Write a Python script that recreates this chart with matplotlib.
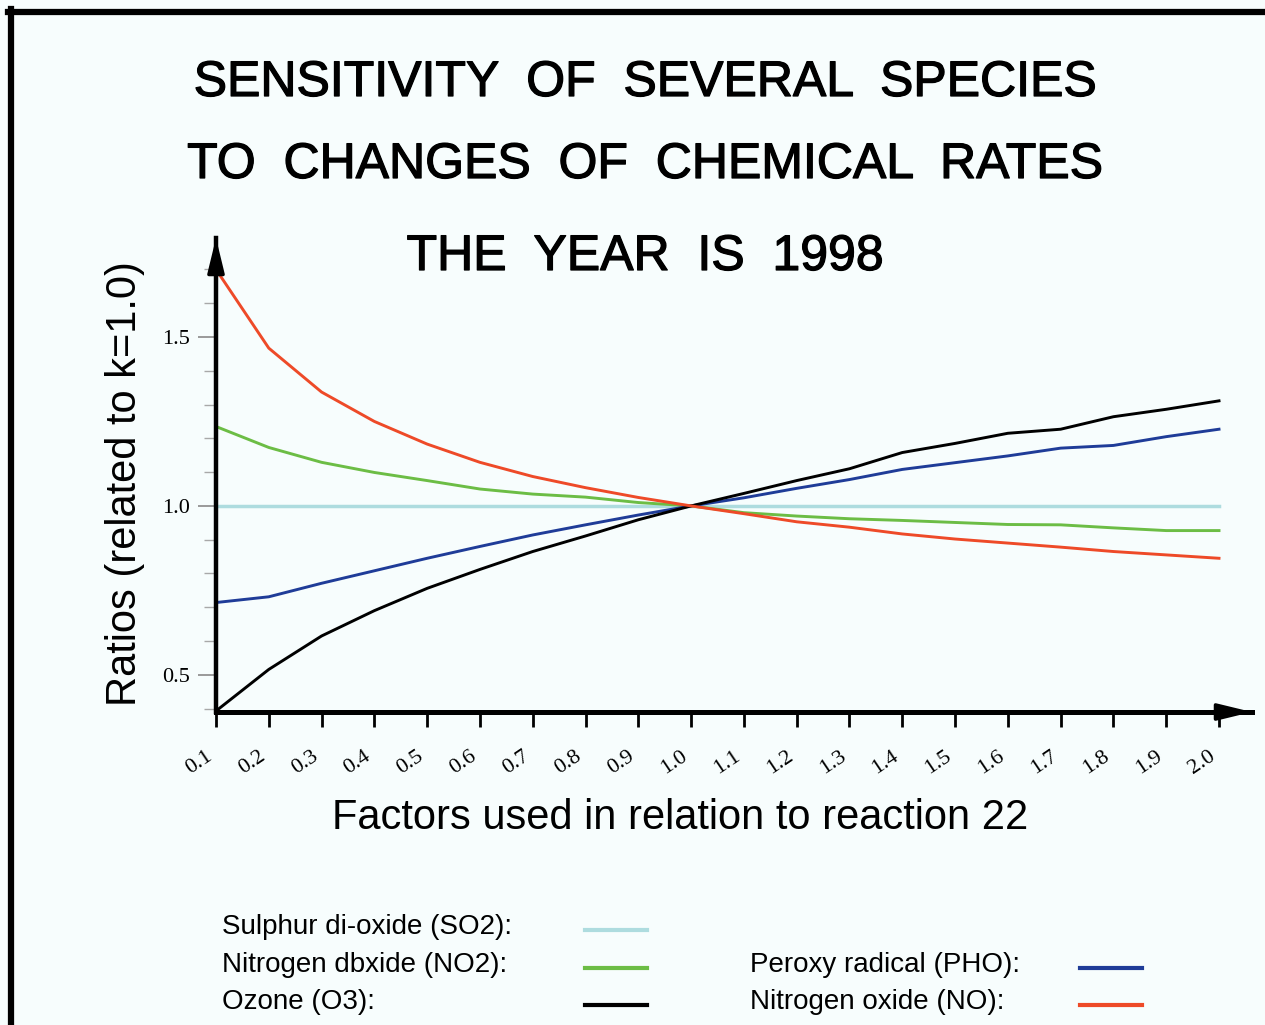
import numpy as np
import matplotlib.pyplot as plt
import matplotlib.patheffects as pe
from matplotlib.lines import Line2D
from matplotlib.ticker import MultipleLocator

# factors applied to reaction 22
factors = [0.1, 0.2, 0.3, 0.4, 0.5, 0.6, 0.7, 0.8, 0.9, 1.0,
           1.1, 1.2, 1.3, 1.4, 1.5, 1.6, 1.7, 1.8, 1.9, 2.0]
tick_labels = ['0.1', '0.2', '0.3', '0.4', '0.5', '0.6', '0.7', '0.8', '0.9', '1.0',
               '1.1', '1.2', '1.3', '1.4', '1.5', '1.6', '1.7', '1.8', '1.9', '2.0']

# ratios
so2 = [1.0] * 20
no2 = [1.235, 1.173, 1.129, 1.099, 1.075, 1.050, 1.035, 1.026, 1.010, 1.0,
       0.980, 0.970, 0.962, 0.957, 0.951, 0.945, 0.944, 0.935, 0.927, 0.927]
o3 = [0.393, 0.516, 0.615, 0.690, 0.756, 0.812, 0.865, 0.911, 0.959, 1.0,
      1.037, 1.075, 1.110, 1.158, 1.185, 1.215, 1.227, 1.264, 1.286, 1.311]
pho = [0.714, 0.731, 0.771, 0.808, 0.845, 0.880, 0.914, 0.944, 0.973, 1.0,
       1.024, 1.052, 1.078, 1.108, 1.128, 1.148, 1.171, 1.179, 1.205, 1.227]
no = [1.700, 1.467, 1.337, 1.250, 1.183, 1.129, 1.087, 1.054, 1.025, 1.0,
      0.977, 0.953, 0.937, 0.917, 0.902, 0.890, 0.878, 0.865, 0.855, 0.845]

c_so2 = '#aedcdf'
c_no2 = '#6cbd45'
c_o3 = '#000000'
c_pho = '#1f3c98'
c_no = '#ee4a28'
bg = '#f7fdfd'

sans = 'Liberation Sans'
serif = 'Liberation Serif'

W, H = 1265, 1025
fig = plt.figure(figsize=(W / 100, H / 100), dpi=100, facecolor=bg)

# page border (top and left edges)
fig.add_artist(Line2D([8 / W, 1], [1 - 12 / H, 1 - 12 / H], color='k', lw=4.5))
fig.add_artist(Line2D([11 / W, 11 / W], [0, 1 - 9 / H], color='k', lw=4.5))

ax = fig.add_axes([216 / W, (H - 712) / H, 1036 / W, 474 / H])
ax.set_facecolor(bg)

ax.plot(factors, so2, color=c_so2, lw=2.5)
ax.plot(factors, no2, color=c_no2, lw=2.1)
ax.plot(factors, pho, color=c_pho, lw=2.1)
ax.plot(factors, o3, color=c_o3, lw=2.1)
ax.plot(factors, no, color=c_no, lw=2.1)

ax.set_xlim(0.1, 2.0625)
ax.set_ylim(0.39, 1.793)

for s in ['top', 'right']:
    ax.spines[s].set_visible(False)
ax.spines['left'].set_linewidth(3.2)
ax.spines['bottom'].set_linewidth(3.6)

# arrow heads on the axes
head = dict(arrowstyle='-|>,head_length=0.7,head_width=0.17', color='k',
            lw=2.5, mutation_scale=30, shrinkA=0, shrinkB=0)
ax.annotate('', xy=(1, 0), xytext=(0.95, 0), xycoords='axes fraction',
            arrowprops=head, annotation_clip=False)
ax.annotate('', xy=(0, 1), xytext=(0, 0.9), xycoords='axes fraction',
            arrowprops=head, annotation_clip=False)

ax.set_xticks(factors)
ax.set_xticklabels(tick_labels, rotation=34, ha='right', family=serif, fontsize=16)
ax.tick_params(axis='x', direction='out', length=11, width=2, color='k', pad=14)

ax.set_yticks([0.5, 1.0, 1.5])
ax.set_yticklabels(['0.5', '1.0', '1.5'], family=serif, fontsize=16)
ax.yaxis.set_minor_locator(MultipleLocator(0.1))
ax.tick_params(axis='y', which='major', direction='out', length=13, width=1.4,
               color='#9a9a9a', pad=6)
ax.tick_params(axis='y', which='minor', direction='out', length=9, width=1,
               color='#a8a8a8')

# titles
heavy = [pe.withStroke(linewidth=0.9, foreground='k')]
fig.text(645 / W, 1 - 83 / H, 'SENSITIVITY  OF  SEVERAL  SPECIES', family=sans,
         fontsize=36, ha='center', va='center', path_effects=heavy)
fig.text(645 / W, 1 - 165 / H, 'TO  CHANGES  OF  CHEMICAL  RATES', family=sans,
         fontsize=36, ha='center', va='center', path_effects=heavy)
fig.text(645 / W, 1 - 257 / H, 'THE  YEAR  IS  1998', family=sans,
         fontsize=36, ha='center', va='center', path_effects=heavy)

fig.text(125 / W, 1 - 484 / H, 'Ratios (related to k=1.0)', family=sans,
         fontsize=30, rotation=90, ha='center', va='center')
fig.text(680 / W, 1 - 818 / H, 'Factors used in relation to reaction 22', family=sans,
         fontsize=30, ha='center', va='center')

# legend drawn as text rows with line samples
legend_rows = [
    ('Sulphur di-oxide (SO2):', c_so2, 222, 585, 927),
    ('Nitrogen dbxide (NO2):', c_no2, 222, 585, 965),
    ('Ozone (O3):', c_o3, 222, 585, 1002),
    ('Peroxy radical (PHO):', c_pho, 750, 1080, 965),
    ('Nitrogen oxide (NO):', c_no, 750, 1080, 1002),
]
for label, col, tx, lx, y in legend_rows:
    fig.text(tx / W, 1 - y / H, label, family=sans, fontsize=20, ha='left', va='center')
    fig.add_artist(Line2D([lx / W, (lx + 62) / W], [1 - (y + 3) / H, 1 - (y + 3) / H],
                          color=col, lw=3))

fig.savefig('out.png', dpi=100, facecolor=bg)
